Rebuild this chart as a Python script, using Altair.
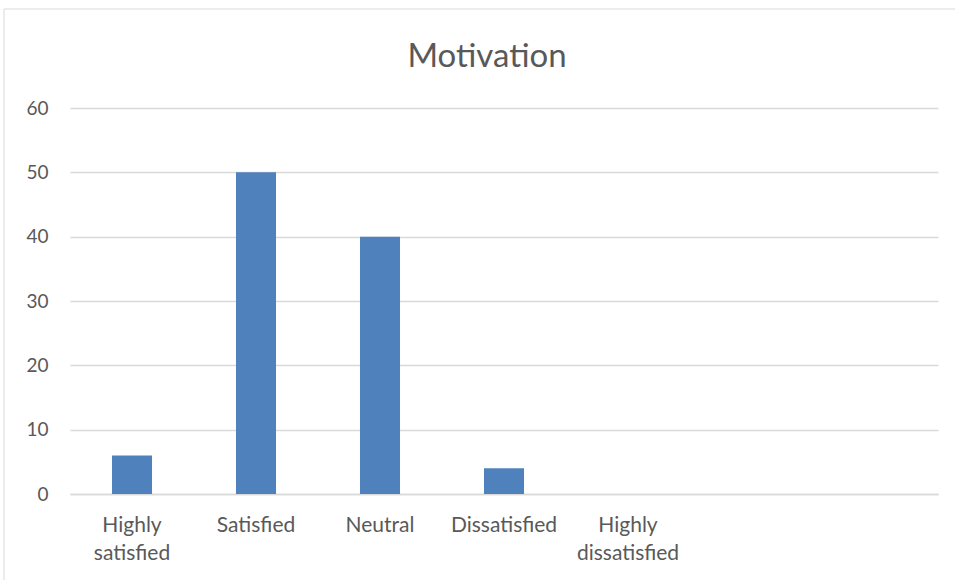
import altair as alt
import pandas as pd

categories = ["Highly satisfied", "Satisfied", "Neutral", "Dissatisfied",
              "Highly dissatisfied", " ", "  "]
values = [6, 50, 40, 4, 0]
bar_categories = categories[:5]

df = pd.DataFrame({"category": bar_categories, "value": values})

FONT = "Lato"
GREY = "#595959"

frame = alt.Chart(pd.DataFrame({"a": [0]})).mark_rect(
    fillOpacity=0, stroke="#d9d9d9", strokeWidth=1
).encode(
    x=alt.value(-66), x2=alt.value(890), y=alt.value(-99), y2=alt.value(500)
)

bars = alt.Chart(df).mark_bar(color="#4f81bd").encode(
    x=alt.X("category:N", sort=categories,
            scale=alt.Scale(domain=categories, paddingInner=0.677, paddingOuter=0.3385),
            axis=alt.Axis(title=None, labelAngle=0, tickSize=0, domainColor="#d9d9d9",
                          domainWidth=1.5, labelPadding=20, labelFontSize=21,
                          labelColor=GREY, labelFont=FONT, labelLineHeight=28,
                          labelExpr="split(datum.label, ' ')")),
    y=alt.Y("value:Q", scale=alt.Scale(domain=[0, 60], nice=False),
            axis=alt.Axis(title=None, values=[0, 10, 20, 30, 40, 50, 60], tickSize=0,
                          domain=False, gridColor="#d9d9d9", gridWidth=1.5,
                          labelPadding=22, labelFontSize=19, labelColor=GREY,
                          labelFont=FONT)),
)

chart = alt.layer(frame, bars).properties(
    width=868, height=386,
    title=alt.TitleParams("Motivation", fontSize=33, font=FONT, color=GREY,
                          fontWeight="normal", anchor="middle", offset=0, dy=65, dx=-17),
    autosize=alt.AutoSizeParams(type="none"),
    padding={"left": 70, "top": 108, "right": 17, "bottom": 86},
).configure_view(stroke=None)

chart.save("out.html", embed_options={"renderer": "svg", "actions": False})
